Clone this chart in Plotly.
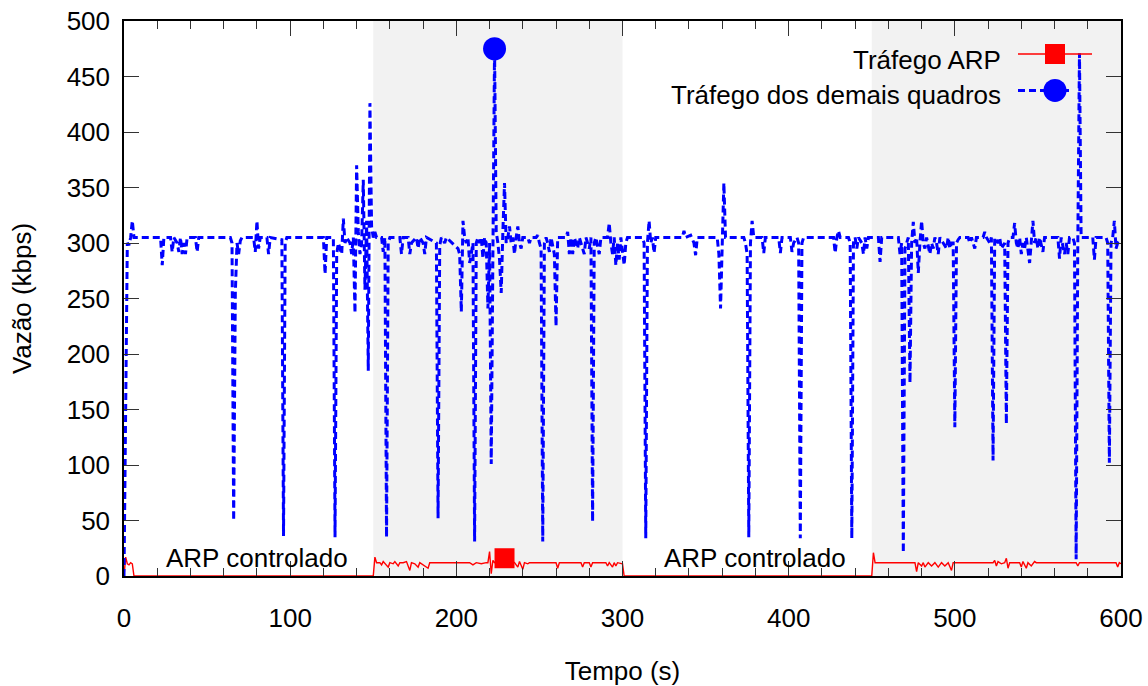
import plotly.graph_objects as go

# ---------------- data ----------------
blue_pts = [
    (0, 0), (2, 300), (3, 298), (4, 305), (5, 320), (6, 305),
    (22, 305), (23, 280), (24, 305),
    (28, 305), (29, 292), (30, 305), (32, 300), (33, 292), (34, 305),
    (35, 290), (36, 300), (37, 290), (38, 305),
    (43, 305), (44, 292), (45, 305),
    (64, 305), (65, 300), (66, 50), (67, 255), (68, 300), (69, 290), (70, 302), (71, 305),
    (78, 305), (79, 292), (80, 320), (81, 295), (82, 305),
    (86, 305), (87, 290), (88, 305),
    (95, 303), (96, 36), (97, 300), (98, 305),
    (120, 305), (121, 272), (122, 305),
    (126, 305), (127, 35), (128, 290), (129, 300), (130, 295), (131, 290), (132, 322), (133, 300), (134, 305),
    (136, 300), (137, 290), (138, 305), (139, 237), (140, 370), (141, 310), (142, 290), (143, 300),
    (144, 357), (145, 258), (146, 320), (147, 185), (148, 426), (149, 315), (150, 305), (151, 310), (152, 305),
    (155, 305), (156, 292), (157, 305), (158, 35), (159, 300), (160, 305),
    (166, 305), (167, 290), (168, 305), (171, 305), (172, 290), (173, 300), (176, 305), (177, 295),
    (178, 305), (180, 300), (181, 290), (182, 305),
    (188, 300), (189, 52), (190, 298), (191, 305), (193, 300), (194, 305),
    (201, 295), (202, 290), (203, 238), (204, 320), (205, 305), (206, 300), (207, 305), (208, 282),
    (209, 290), (210, 300), (211, 31), (212, 300), (213, 305), (214, 300), (215, 305), (216, 286),
    (217, 305), (218, 300), (219, 241), (220, 300), (221, 101), (222, 300), (223, 475), (224, 310),
    (225, 300), (226, 285), (227, 255), (228, 310), (229, 354), (230, 300), (231, 305), (232, 315),
    (233, 300), (234, 305), (235, 290), (236, 305), (237, 315), (238, 300), (239, 295), (240, 305),
    (243, 305), (244, 300), (245, 305),
    (248, 305), (249, 307), (250, 300), (251, 295), (252, 31), (253, 300), (254, 305), (255, 300),
    (256, 292), (257, 305), (259, 290), (260, 225), (261, 305),
    (266, 305), (267, 310), (268, 290), (269, 305), (270, 290), (271, 305),
    (273, 295), (274, 305), (275, 300), (277, 290), (278, 305),
    (280, 295), (281, 305), (282, 49), (283, 300), (284, 305), (286, 290), (287, 305),
    (291, 305), (292, 318), (293, 300), (294, 290), (295, 305), (296, 280), (297, 300), (298, 285), (299, 305),
    (301, 280), (302, 300), (303, 305),
    (312, 305), (313, 300), (314, 34), (315, 300), (316, 320), (317, 300), (318, 305), (319, 291), (320, 305),
    (336, 305), (337, 311), (338, 305), (341, 307), (343, 300), (344, 289), (345, 305),
    (357, 305), (358, 290), (359, 241), (360, 300), (361, 354), (362, 305),
    (373, 305), (374, 300), (375, 290), (376, 35), (377, 300), (378, 320), (379, 305),
    (384, 305), (385, 291), (386, 305), (394, 305), (395, 291), (396, 305),
    (401, 305), (402, 292), (403, 300), (405, 305), (406, 300), (407, 34), (408, 300), (409, 305),
    (427, 305), (428, 291), (429, 305), (430, 311), (431, 305),
    (436, 305), (437, 300), (438, 34), (439, 300), (440, 305),
    (441, 295), (442, 305), (444, 300), (445, 290), (446, 305), (447, 295), (448, 305),
    (454, 305), (455, 283), (456, 305),
    (466, 305), (467, 290), (468, 300), (469, 21), (470, 295), (471, 300), (472, 305), (473, 174),
    (474, 300), (475, 319), (476, 300), (477, 305), (478, 273), (479, 300), (480, 320), (481, 300),
    (482, 295), (483, 305), (485, 290), (486, 300), (487, 295), (488, 305), (489, 300), (490, 290),
    (491, 305), (493, 300), (495, 295), (496, 305),
    (497, 295), (498, 300), (499, 300), (500, 134), (501, 300), (502, 303), (503, 305),
    (508, 305), (509, 300), (510, 305), (512, 295), (513, 305), (517, 305), (518, 310), (519, 305),
    (521, 300), (522, 305), (523, 104), (524, 305), (526, 300), (527, 305), (528, 295), (530, 300),
    (531, 137), (532, 300), (533, 305),
    (535, 305), (536, 318), (537, 300), (538, 295), (539, 305), (540, 290), (541, 300), (542, 295),
    (543, 305), (545, 282), (546, 300), (547, 320), (548, 300), (549, 305), (550, 295), (551, 305),
    (553, 292), (554, 305),
    (562, 305), (563, 286), (564, 305), (566, 290), (567, 300), (568, 290), (569, 305),
    (571, 305), (572, 300), (573, 15), (574, 300), (575, 471), (576, 305),
    (583, 305), (584, 285), (585, 305),
    (591, 305), (592, 300), (593, 102), (594, 300), (595, 305), (596, 320), (597, 295), (598, 300), (600, 298),
]
outros_t = [p[0] for p in blue_pts]
outros_v = [p[1] for p in blue_pts]

red_pts = [
    (0, 0), (1, 17), (2, 11), (3, 10), (4, 12), (5, 11), (6, 0), (150, 0), (151, 17), (152, 12),
    (154, 12), (155, 10), (156, 13), (157, 11), (159, 8), (160, 12), (162, 11), (163, 13), (165, 9),
    (166, 12), (168, 12), (170, 13), (172, 5), (173, 12), (175, 11), (177, 8), (178, 12), (183, 7),
    (184, 12), (208, 12), (210, 10), (212, 12), (215, 11), (218, 12), (219, 12), (220, 22), (221, 2),
    (222, 14), (223, 12), (229, 16), (235, 12), (237, 8), (238, 13), (240, 6), (241, 12), (243, 11),
    (244, 12), (260, 12), (261, 7), (262, 12), (275, 12), (276, 8), (277, 12), (280, 12), (281, 8),
    (282, 12), (290, 12), (291, 9), (292, 12), (294, 8), (295, 12), (296, 9), (297, 12), (300, 11),
    (301, 0), (450, 0), (451, 21), (452, 12), (476, 12), (477, 4), (478, 12), (480, 9), (481, 12),
    (482, 8), (484, 12), (486, 9), (488, 12), (490, 8), (492, 12), (494, 9), (496, 12), (498, 5),
    (499, 12), (523, 12), (524, 14), (525, 9), (526, 13), (528, 11), (530, 12), (531, 16), (532, 7),
    (533, 12), (539, 12), (540, 8), (541, 13), (543, 7), (544, 12), (546, 9), (548, 13), (549, 12),
    (573, 12), (574, 9), (575, 12), (597, 12), (598, 8), (599, 12), (600, 11),
]
arp_t = [p[0] for p in red_pts]
arp_v = [p[1] for p in red_pts]

arp_marker_t = 229      # time where the single ARP marker is drawn
outros_marker_t = 223   # time where the single marker of the other series is drawn

shaded_ranges = [(150, 300), (450, 600)]
label_positions = [80, 380]
label_text = "ARP controlado"
x_ticks = [0, 100, 200, 300, 400, 500, 600]
y_ticks = [0, 50, 100, 150, 200, 250, 300, 350, 400, 450, 500]
series_names = ["Tráfego ARP", "Tráfego dos demais quadros"]

# ---------------- figure ----------------
FONT = "Liberation Sans, Arial, Helvetica, sans-serif"
FS = 26
RED = "#ff0000"
BLUE = "#0000ff"

fig = go.Figure()

fig.add_trace(go.Scatter(x=arp_t, y=arp_v, mode="lines", name=series_names[0],
                         line=dict(color=RED, width=1.4), showlegend=False))
fig.add_trace(go.Scatter(x=outros_t, y=outros_v, mode="lines", name=series_names[1],
                         line=dict(color=BLUE, width=3, dash="7px,4px"), showlegend=False))

ia = arp_t.index(arp_marker_t)
fig.add_trace(go.Scatter(x=[arp_t[ia]], y=[arp_v[ia]], mode="markers", showlegend=False,
                         marker=dict(symbol="square", size=20, color=RED), cliponaxis=False))
ib = outros_t.index(outros_marker_t)
fig.add_trace(go.Scatter(x=[outros_t[ib]], y=[outros_v[ib]], mode="markers", showlegend=False,
                         marker=dict(symbol="circle", size=23, color=BLUE), cliponaxis=False))

shapes = []
for a, b in shaded_ranges:
    shapes.append(dict(type="rect", xref="x", yref="paper", x0=a, x1=b, y0=0, y1=1,
                       fillcolor="#f2f2f2", line=dict(width=0), layer="below"))

# legend (gnuplot style: text on the left, sample on the right)
leg_x = 0.9338
leg_y = [0.9405, 0.8748]
shapes.append(dict(type="line", xref="paper", yref="paper", xsizemode="pixel", ysizemode="pixel",
                   xanchor=leg_x, yanchor=leg_y[0], x0=-37, x1=37, y0=0, y1=0,
                   line=dict(color=RED, width=1.4)))
shapes.append(dict(type="rect", xref="paper", yref="paper", xsizemode="pixel", ysizemode="pixel",
                   xanchor=leg_x, yanchor=leg_y[0], x0=-10, x1=10, y0=-10, y1=10,
                   fillcolor=RED, line=dict(width=0)))
shapes.append(dict(type="line", xref="paper", yref="paper", xsizemode="pixel", ysizemode="pixel",
                   xanchor=leg_x, yanchor=leg_y[1], x0=-37, x1=17, y0=0, y1=0,
                   line=dict(color=BLUE, width=3, dash="7px,4px")))
shapes.append(dict(type="circle", xref="paper", yref="paper", xsizemode="pixel", ysizemode="pixel",
                   xanchor=leg_x, yanchor=leg_y[1], x0=-11.5, x1=11.5, y0=-11.5, y1=11.5,
                   fillcolor=BLUE, line=dict(width=0)))

annotations = []
for name, yy, dy in zip(series_names, leg_y, [0.011, 0.008]):
    annotations.append(dict(text=name, xref="paper", yref="paper", x=0.8817, y=yy - dy,
                            xanchor="right", yanchor="middle", showarrow=False,
                            font=dict(family=FONT, size=FS, color="black")))
for xp in label_positions:
    annotations.append(dict(text=label_text, xref="x", yref="y", x=xp, y=16,
                            xanchor="center", yanchor="middle", showarrow=False,
                            font=dict(family=FONT, size=FS, color="black")))

axis_common = dict(showgrid=False, zeroline=False, showline=True, linecolor="black", linewidth=1.5,
                   mirror="ticks", ticks="inside", ticklen=15, tickwidth=1.3, tickcolor="#333333",
                   tickfont=dict(family=FONT, size=FS, color="black"), automargin=False)

fig.update_layout(
    width=1148, height=686,
    margin=dict(l=124, r=27, t=21, b=110),
    paper_bgcolor="white", plot_bgcolor="white",
    font=dict(family=FONT, size=FS, color="black"),
    shapes=shapes, annotations=annotations,
    xaxis=dict(range=[0, 600], tickvals=x_ticks, ticklabelstandoff=18,
               minor=dict(dtick=20, ticks="inside", ticklen=8, tickwidth=1.3, tickcolor="#333333"),
               title=dict(text="Tempo (s)", standoff=36, font=dict(family=FONT, size=FS)),
               **axis_common),
    yaxis=dict(range=[0, 500], tickvals=y_ticks, ticklabelstandoff=7,
               title=dict(text="Vazão (kbps)", standoff=28, font=dict(family=FONT, size=FS)),
               **axis_common),
)

fig.write_html("out.html", config={"displayModeBar": False},
               post_script="document.body.style.margin='0';document.body.style.overflow='hidden';")
